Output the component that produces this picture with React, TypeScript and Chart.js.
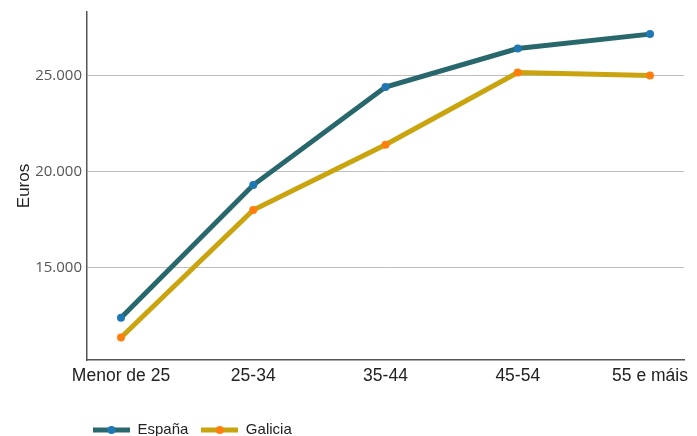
import React, { useEffect, useRef } from "react";
import { Chart, registerables } from "chart.js";
Chart.register(...registerables);

const categories = ["Menor de 25", "25-34", "35-44", "45-54", "55 e máis"];
const seriesNames = ["España", "Galicia"];
const espana = [12400, 19300, 24400, 26400, 27150];
const galicia = [11370, 18000, 21400, 25150, 25000];
const yTickValues = [15000, 20000, 25000];
const yMin = 10200;
const yMax = 28300;

const lineColors = ["#28686d", "#c9a40e"];
const dotColors = ["#1f77b4", "#ff7f0e"];

function swatch(line: string, dot: string) {
  const c = document.createElement("canvas");
  c.width = 37;
  c.height = 10;
  const ctx = c.getContext("2d")!;
  ctx.strokeStyle = line;
  ctx.lineWidth = 5;
  ctx.beginPath();
  ctx.moveTo(0, 5);
  ctx.lineTo(37, 5);
  ctx.stroke();
  ctx.fillStyle = dot;
  ctx.beginPath();
  ctx.arc(18.5, 5, 4, 0, Math.PI * 2);
  ctx.fill();
  return c;
}

const fmt = (v: number) => String(v).replace(/\B(?=(\d{3})+(?!\d))/g, ".");

export default function App() {
  const ref = useRef<HTMLCanvasElement>(null);
  useEffect(() => {
    if (!ref.current) return;
    const swatches = [swatch(lineColors[0], dotColors[0]), swatch(lineColors[1], dotColors[1])];
    const series = [espana, galicia];
    const legendPlacer = {
      id: "legendPlacer",
      afterLayout(chart: any) {
        const lg = chart.legend;
        if (lg) {
          lg.left = 80;
          lg.top = 409.5;
        }
      },
    };
    const chart = new Chart(ref.current, {
      type: "line",
      data: {
        datasets: series.map((vals, si) => ({
          label: seriesNames[si],
          data: vals.map((v, i) => ({ x: i, y: v })),
          borderColor: lineColors[si],
          backgroundColor: dotColors[si],
          borderWidth: 5,
          pointRadius: 4,
          pointBorderWidth: 0,
          pointBackgroundColor: dotColors[si],
          pointHoverRadius: 4,
          tension: 0,
          fill: false,
        })),
      },
      options: {
        animation: false,
        responsive: false,
        layout: { padding: { top: 12, right: 13, left: 0, bottom: 0 } },
        plugins: {
          tooltip: { enabled: false },
          legend: {
            position: "bottom",
            align: "start",
            labels: {
              usePointStyle: true,
              pointStyleWidth: 37,
              padding: 13,
              color: "#222",
              font: { family: "'Liberation Sans', Arial, sans-serif", size: 15 },
              generateLabels: (c: any) =>
                c.data.datasets.map((ds: any, i: number) => ({
                  text: ds.label,
                  pointStyle: swatches[i],
                  fillStyle: dotColors[i],
                  strokeStyle: lineColors[i],
                  lineWidth: 0,
                  hidden: false,
                  datasetIndex: i,
                  fontColor: "#222",
                })),
            },
          },
        },
        scales: {
          x: {
            type: "linear",
            min: -0.257,
            max: 4.257,
            afterBuildTicks: (s: any) => {
              s.ticks = categories.map((_, i) => ({ value: i }));
            },
            afterFit: (s: any) => {
              s.height = 38;
              s.paddingLeft = 0;
              s.paddingRight = 0;
            },
            grid: { display: false, drawTicks: false },
            border: { display: true, color: "#555", width: 1.5 },
            ticks: {
              autoSkip: false,
              maxRotation: 0,
              padding: 6,
              color: "#222",
              font: { family: "'Liberation Sans', Arial, sans-serif", size: 17.5 },
              callback: (v: any) => categories[v as number],
            },
          },
          y: {
            type: "linear",
            min: yMin,
            max: yMax,
            afterBuildTicks: (s: any) => {
              s.ticks = yTickValues.map((v) => ({ value: v }));
            },
            afterFit: (s: any) => {
              s.width = 87;
              s.paddingTop = 0;
              s.paddingBottom = 0;
            },
            grid: { color: "#bdbdbd", lineWidth: 1, drawTicks: false },
            border: { display: true, color: "#555", width: 1.5 },
            title: {
              display: true,
              text: "Euros",
              color: "#222",
              font: { family: "'Liberation Sans', Arial, sans-serif", size: 17 },
              padding: { top: 14, bottom: 0 },
            },
            ticks: {
              padding: 5,
              color: "#555",
              font: { family: "'Open Sans', sans-serif", size: 15 },
              callback: (v: any) => fmt(v as number),
            },
          },
        },
      },
      plugins: [legendPlacer],
    } as any);
    return () => chart.destroy();
  }, []);
  return (
    <div style={{ position: "fixed", left: 0, top: 0, width: 697, height: 436, background: "#fff" }}>
      <canvas ref={ref} width={697} height={436} style={{ display: "block" }} />
    </div>
  );
}
